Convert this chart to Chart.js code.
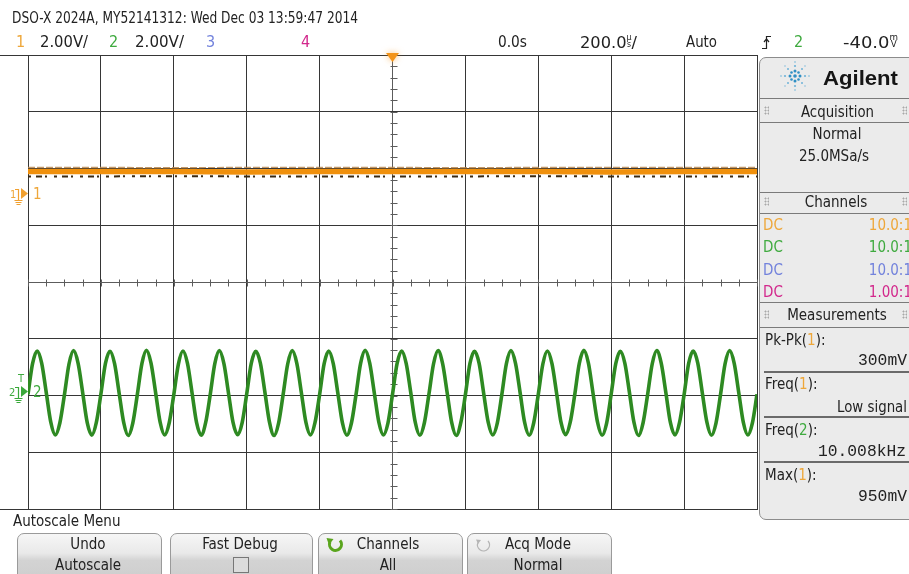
<!DOCTYPE html>
<html><head><meta charset="utf-8">
<script src="https://cdn.jsdelivr.net/npm/chart.js@4.4.1/dist/chart.umd.min.js"></script>
<style>
html,body{margin:0;padding:0;background:#fff;}
body{width:909px;height:574px;position:relative;overflow:hidden;}
.t{position:absolute;white-space:nowrap;line-height:1;}
#cv{position:absolute;left:0;top:0;}
.panel{position:absolute;left:759px;top:57px;width:160px;height:461px;background:#ebebeb;border:1px solid #8c8c8c;border-radius:7px;}
.sep{position:absolute;left:760px;width:149px;height:1px;background:#7a7a7a;}
.msep{position:absolute;left:764px;width:145px;height:2px;background:#6a6a6a;}
.btn{position:absolute;top:533px;height:48px;border:1px solid #9a9a9a;border-radius:7px 7px 0 0;
 background:linear-gradient(#f6f6f6 0%,#e9e9e9 40%,#d3d3d3 55%,#cdcdcd 100%);}
.grip{position:absolute;width:5px;height:9px;background-image:radial-gradient(circle,#a8a8a8 0.9px,transparent 1.1px);background-size:3px 3px;}
</style></head>
<body>
<canvas id="cv" width="909" height="574"></canvas>

<div class="panel"></div>
<div class="sep" style="top:98px"></div>
<div class="sep" style="top:122px"></div>
<div class="sep" style="top:192px"></div>
<div class="sep" style="top:213px"></div>
<div class="sep" style="top:302px"></div>
<div class="sep" style="top:327px"></div>
<div class="msep" style="top:371px"></div>
<div class="msep" style="top:416px"></div>
<div class="msep" style="top:461px"></div>
<div class="grip" style="left:764px;top:106px"></div><div class="grip" style="left:902px;top:106px"></div>
<div class="grip" style="left:764px;top:197px"></div><div class="grip" style="left:902px;top:197px"></div>
<div class="grip" style="left:764px;top:310px"></div><div class="grip" style="left:902px;top:310px"></div>

<div class="btn" style="left:17px;width:143px"></div>
<div class="btn" style="left:170px;width:141px"></div>
<div class="btn" style="left:318px;width:143px"></div>
<div class="btn" style="left:467px;width:143px"></div>
<div style="position:absolute;left:233px;top:557px;width:14px;height:14px;border:1px solid #777;background:#dcdcdc"></div>

<svg style="position:absolute;left:0;top:0" width="909" height="574">
  <g stroke="#f0a030" fill="none" stroke-width="1.2">
    <path d="M15 189.5 H18.5 V200"/>
    <path d="M14.5 200.5 H22.5 M15.5 202.5 H21.5 M16.5 204.5 H20.5"/>
  </g>
  <path d="M21 188 L21 199 L28 193.5 Z" fill="#f0a030"/>
  <g stroke="#3aa83a" fill="none" stroke-width="1.2">
    <path d="M15 387.5 H18.5 V398"/>
    <path d="M14.5 398.5 H22.5 M15.5 400.5 H21.5 M16.5 402.5 H20.5"/>
  </g>
  <path d="M21 386 L21 397 L28 391.5 Z" fill="#3aa83a"/>
  <g stroke="#222" fill="none" stroke-width="1.2">
    <path d="M762 48.5 H766.5 V36.5 H771"/>
    <path d="M764 42 L766.5 39 L769 42"/>
  </g>
  <g fill="#2f8fc4">
    <circle cx="795" cy="76" r="1.8"/>
    <circle cx="795" cy="71" r="1.5"/><circle cx="795" cy="81" r="1.5"/>
    <circle cx="790" cy="76" r="1.5"/><circle cx="800" cy="76" r="1.5"/>
    <circle cx="791.5" cy="72.5" r="1.3"/><circle cx="798.5" cy="72.5" r="1.3"/>
    <circle cx="791.5" cy="79.5" r="1.3"/><circle cx="798.5" cy="79.5" r="1.3"/>
  </g>
  <g fill="#6fb3d8">
    <circle cx="795" cy="66" r="1.1"/><circle cx="795" cy="86" r="1.1"/>
    <circle cx="785" cy="76" r="1.1"/><circle cx="805" cy="76" r="1.1"/>
    <circle cx="788" cy="69" r="1"/><circle cx="802" cy="69" r="1"/>
    <circle cx="788" cy="83" r="1"/><circle cx="802" cy="83" r="1"/>
    <circle cx="795" cy="62" r="0.8"/><circle cx="795" cy="90" r="0.8"/>
    <circle cx="781" cy="76" r="0.8"/><circle cx="809" cy="76" r="0.8"/>
    <circle cx="785" cy="66" r="0.7"/><circle cx="805" cy="66" r="0.7"/>
    <circle cx="785" cy="86" r="0.7"/><circle cx="805" cy="86" r="0.7"/>
  </g>
  <path d="M340 540.5 A6 6 0 1 1 330 542" stroke="#5aa51e" stroke-width="3" fill="none"/>
  <path d="M326.5 538 L333.5 539 L329 545 Z" fill="#5aa51e"/>
  <path d="M488 541 A6 6 0 1 1 478 542.5" stroke="#b5b5b5" stroke-width="1.3" fill="none"/>
  <path d="M476 539.5 L481 540 L478 544 Z" fill="#b5b5b5"/>
</svg>

<script>
// ---------------- data ----------------
const timePerDivUs = 200;           // 200.0 us/div
const voltsPerDiv = 2.0;            // both channels 2.00 V/div
const ch1GroundDiv = 1.54;          // channel 1 ground marker, divisions above centre
const ch2GroundDiv = -1.96;         // channel 2 ground marker, divisions below centre

// channel 1 (orange): flat level, envelope of the noisy trace
const ch1Time = [-1000, -800, -600, -400, -200, 0, 200, 400, 600, 800, 1000];
const ch1Max  = [0.96, 0.96, 0.95, 0.96, 0.96, 0.96, 0.95, 0.96, 0.96, 0.96, 0.96];
const ch1Mean = [0.81, 0.81, 0.81, 0.80, 0.81, 0.81, 0.81, 0.81, 0.80, 0.81, 0.81];
const ch1Min  = [0.64, 0.64, 0.65, 0.64, 0.64, 0.64, 0.64, 0.65, 0.64, 0.64, 0.64];

// channel 2 (green): ~10 kHz sine, samples every 12.5 us starting at -1000 us
const ch2StartUs = -1000;
const ch2StepUs = 12.5;
const ch2Volts = [
  -0.04, 1.04, 1.49, 1.06, 0.03, -1.02, -1.47, -1.04,
  -0.05, 1.03, 1.50, 1.05, 0.02, -1.04, -1.48, -1.03,
  -0.03, 1.05, 1.48, 1.04, 0.01, -1.03, -1.49, -1.05,
  -0.04, 1.04, 1.51, 1.06, 0.03, -1.02, -1.47, -1.04,
  -0.05, 1.02, 1.49, 1.05, 0.02, -1.04, -1.48, -1.03,
  -0.04, 1.04, 1.50, 1.04, 0.01, -1.03, -1.46, -1.04,
  -0.03, 1.05, 1.48, 1.06, 0.03, -1.02, -1.49, -1.05,
  -0.04, 1.03, 1.50, 1.05, 0.02, -1.03, -1.47, -1.03,
  -0.05, 1.04, 1.49, 1.04, 0.01, -1.04, -1.48, -1.04,
  -0.04, 1.05, 1.51, 1.06, 0.02, -1.02, -1.47, -1.05,
  -0.04, 1.04, 1.49, 1.05, 0.03, -1.03, -1.48, -1.04,
  -0.03, 1.03, 1.50, 1.04, 0.02, -1.04, -1.49, -1.03,
  -0.05, 1.05, 1.48, 1.06, 0.01, -1.02, -1.47, -1.05,
  -0.04, 1.04, 1.50, 1.05, 0.03, -1.03, -1.48, -1.04,
  -0.04, 1.03, 1.49, 1.04, 0.02, -1.04, -1.46, -1.03,
  -0.05, 1.05, 1.51, 1.06, 0.01, -1.02, -1.48, -1.05,
  -0.03, 1.04, 1.48, 1.05, 0.03, -1.03, -1.49, -1.04,
  -0.04, 1.03, 1.50, 1.04, 0.02, -1.04, -1.47, -1.03,
  -0.05, 1.05, 1.49, 1.06, 0.01, -1.02, -1.48, -1.05,
  -0.04, 1.04, 1.50, 1.05, 0.02, -1.03, -1.47, -1.04,
  -0.04
];

// ---------------- text ----------------
const F1 = '"Liberation Sans Narrow","Arial Narrow","DejaVu Sans Condensed",sans-serif';
const F2 = '"DejaVu Sans Condensed","DejaVu Sans",sans-serif';
const FM = '"Liberation Mono","DejaVu Sans Mono",monospace';
const C1 = '#eea73a', C2 = '#3faa3f', C3 = '#7282dc', C4 = '#d2288c';

function addText(html, o) {
  const el = document.createElement('div');
  el.className = 't';
  el.innerHTML = html;
  const fs = o.fs || 15;
  el.style.fontSize = fs + 'px';
  el.style.fontFamily = o.font || F2;
  el.style.color = o.color || '#222';
  if (o.weight) el.style.fontWeight = o.weight;
  document.body.appendChild(el);
  let w = el.getBoundingClientRect().width;
  let s = 1;
  if (o.w) s = o.w / w;
  const tw = w * s;
  let left;
  if (o.x !== undefined) left = o.x;
  else if (o.cx !== undefined) left = o.cx - tw / 2;
  else left = o.rx - tw;
  el.style.transformOrigin = 'left center';
  if (s !== 1) el.style.transform = 'scaleX(' + s + ')';
  el.style.left = left + 'px';
  el.style.top = (o.cy - 0.48 * fs) + 'px';
  return el;
}
const unit = (a, b) => '<span style="display:inline-block;font-size:8px;line-height:7px;vertical-align:1px;text-align:center">' + a + '<br>' + b + '</span>';

addText('DSO-X 2024A, MY52141312: Wed Dec 03 13:59:47 2014', {x: 12, cy: 18, fs: 16.5, font: F1, w: 346});
addText('1', {x: 16, cy: 42, fs: 16, color: C1, font: F1});
addText('2.00V/', {x: 40, cy: 42, fs: 16.5, w: 48, font: F1});
addText('2', {x: 109, cy: 42, fs: 16, color: C2, font: F1});
addText('2.00V/', {x: 135, cy: 42, fs: 16.5, w: 49, font: F1});
addText('3', {x: 206, cy: 42, fs: 16, color: C3, font: F1});
addText('4', {x: 301, cy: 42, fs: 16, color: C4, font: F1});
addText('0.0s', {x: 498, cy: 42, fs: 16.5, w: 29, font: F1});
addText('200.0' + unit('µ', 's') + '/', {x: 580, cy: 42, fs: 16.5, w: 57, font: F1});
addText('Auto', {x: 686, cy: 42, fs: 16.5, w: 31, font: F1});
addText('2', {x: 794, cy: 42, fs: 16, color: C2, font: F1});
addText('-40.0' + unit('m', 'V'), {x: 843, cy: 42, fs: 16.5, w: 55, font: F1});

// channel markers
addText('1', {x: 10, cy: 194, fs: 11, color: C1});
addText('1', {x: 33, cy: 194, fs: 15, color: C1});
addText('2', {x: 9, cy: 392, fs: 11, color: C2});
addText('T', {x: 18, cy: 378, fs: 11, color: C2});
addText('2', {x: 33, cy: 392, fs: 15, color: C2});

// right panel
addText('Agilent', {x: 823, cy: 77, fs: 21, font: '"Liberation Sans","DejaVu Sans",sans-serif', weight: 'bold', w: 75, color: '#151515'});
addText('Acquisition', {cx: 837, cy: 112, fs: 15, w: 73});
addText('Normal', {cx: 837, cy: 134, fs: 15});
addText('25.0MSa/s', {cx: 834, cy: 156, fs: 15});
addText('Channels', {cx: 836, cy: 202, fs: 15});
const chRows = [[225, C1, '10.0:1'], [247, C2, '10.0:1'], [270, C3, '10.0:1'], [292, C4, '1.00:1']];
chRows.forEach(r => {
  addText('DC', {x: 763, cy: r[0], fs: 15, color: r[1]});
  addText(r[2], {rx: 912, cy: r[0], fs: 15, color: r[1]});
});
addText('Measurements', {cx: 837, cy: 315, fs: 15});
addText('Pk-Pk(<span style="color:' + C1 + '">1</span>):', {x: 765, cy: 340, fs: 15});
addText('300mV', {rx: 907, cy: 361, fs: 16.5, font: FM, w: 49});
addText('Freq(<span style="color:' + C1 + '">1</span>):', {x: 765, cy: 384, fs: 15});
addText('Low signal', {rx: 907, cy: 407, fs: 15, w: 70});
addText('Freq(<span style="color:' + C2 + '">2</span>):', {x: 765, cy: 430, fs: 15});
addText('10.008kHz', {rx: 906, cy: 452, fs: 16.5, font: FM, w: 88});
addText('Max(<span style="color:' + C1 + '">1</span>):', {x: 765, cy: 475, fs: 15});
addText('950mV', {rx: 907, cy: 497, fs: 16.5, font: FM, w: 49});

// softkeys
addText('Autoscale Menu', {x: 13, cy: 521, fs: 15});
addText('Undo', {cx: 88, cy: 544, fs: 15});
addText('Autoscale', {cx: 88, cy: 565, fs: 15});
addText('Fast Debug', {cx: 240, cy: 544, fs: 15});
addText('Channels', {cx: 388, cy: 544, fs: 15});
addText('All', {cx: 388, cy: 565, fs: 15});
addText('Acq Mode', {cx: 538, cy: 544, fs: 15});
addText('Normal', {cx: 538, cy: 565, fs: 15});

// ---------------- chart ----------------
const ch2Time = ch2Volts.map((_, i) => ch2StartUs + i * ch2StepUs);
const pts = (xs, ys) => xs.map((x, i) => ({x: x, y: ys[i]}));
const halfDivs = 4;
const chRange = g => ({min: (-halfDivs - g) * voltsPerDiv, max: (halfDivs - g) * voltsPerDiv});

const GRID = '#363636', CENTER = '#5c5c5c';
const decor = {
  id: 'decor',
  beforeDatasetsDraw(chart) {
    const {ctx, chartArea: a, scales} = chart;
    const x = scales.x, y = scales.yDiv;
    const cx = Math.round(x.getPixelForValue(0)) + 0.5;
    const cy = Math.round(y.getPixelForValue(0)) + 0.5;
    ctx.save();
    ctx.strokeStyle = CENTER;
    ctx.lineWidth = 1;
    ctx.beginPath();
    for (let i = -20; i <= 20; i++) {
      const px = Math.round(x.getPixelForValue(i * timePerDivUs / 4)) + 0.5;
      ctx.moveTo(px, cy - 3); ctx.lineTo(px, cy + 4);
    }
    for (let j = -20; j <= 20; j++) {
      const py = Math.round(y.getPixelForValue(j / 5)) + 0.5;
      ctx.moveTo(cx - 3, py); ctx.lineTo(cx + 4, py);
    }
    ctx.stroke();
    ctx.strokeStyle = GRID;
    ctx.beginPath();
    ctx.moveTo(0, Math.round(a.top) + 0.5); ctx.lineTo(a.left, Math.round(a.top) + 0.5);
    ctx.moveTo(0, Math.round(a.bottom) + 0.5); ctx.lineTo(a.left, Math.round(a.bottom) + 0.5);
    ctx.stroke();
    ctx.restore();
  },
  afterDatasetsDraw(chart) {
    const {ctx, chartArea: a, scales} = chart;
    const cx = scales.x.getPixelForValue(0);
    ctx.save();
    ctx.shadowColor = 'rgba(245,150,30,0.6)';
    ctx.shadowBlur = 6;
    ctx.fillStyle = '#f39419';
    ctx.beginPath();
    ctx.moveTo(cx - 6.5, a.top - 2); ctx.lineTo(cx + 6.5, a.top - 2); ctx.lineTo(cx, a.top + 7);
    ctx.closePath(); ctx.fill();
    ctx.restore();
  }
};

const gridOpts = {color: c => (c.tick && c.tick.value === 0 ? CENTER : GRID), lineWidth: 1, drawTicks: false};
new Chart(document.getElementById('cv'), {
  type: 'line',
  data: {datasets: [
    {label: 'Ch1 max', data: pts(ch1Time, ch1Max), yAxisID: 'yCh1', borderColor: 'rgba(185,135,80,0.85)', borderWidth: 1.2, borderDash: [7, 2], pointRadius: 0},
    {label: 'Ch1', data: pts(ch1Time, ch1Mean), yAxisID: 'yCh1', borderColor: '#f0900c', borderWidth: 5.5, pointRadius: 0},
    {label: 'Ch1 min', data: pts(ch1Time, ch1Min), yAxisID: 'yCh1', borderColor: '#3b2a12', borderWidth: 2, borderDash: [3, 5, 6, 3, 2, 7], pointRadius: 0},
    {label: 'Ch2', data: pts(ch2Time, ch2Volts), yAxisID: 'yCh2', borderColor: '#2e8a22', borderWidth: 3.6, pointRadius: 0, cubicInterpolationMode: 'monotone'},
    {label: 'Ch2 core', data: pts(ch2Time, ch2Volts), yAxisID: 'yCh2', borderColor: '#4cb838', borderWidth: 1.4, pointRadius: 0, cubicInterpolationMode: 'monotone'}
  ]},
  options: {
    responsive: false, animation: false, events: [],
    layout: {padding: {left: 28, top: 55, right: 152, bottom: 65}},
    plugins: {legend: {display: false}, tooltip: {enabled: false}},
    scales: {
      x: {type: 'linear', min: -5 * timePerDivUs, max: 5 * timePerDivUs,
          ticks: {display: false, stepSize: timePerDivUs}, grid: gridOpts,
          border: {display: true, color: GRID}, afterFit(s) { s.height = 0; }},
      yDiv: {type: 'linear', position: 'left', min: -halfDivs, max: halfDivs,
          ticks: {display: false, stepSize: 1}, grid: gridOpts,
          border: {display: true, color: GRID}, afterFit(s) { s.width = 0; }},
      yCh1: Object.assign({type: 'linear', display: false}, chRange(ch1GroundDiv)),
      yCh2: Object.assign({type: 'linear', display: false}, chRange(ch2GroundDiv))
    }
  },
  plugins: [decor]
});
</script>
</body></html>
